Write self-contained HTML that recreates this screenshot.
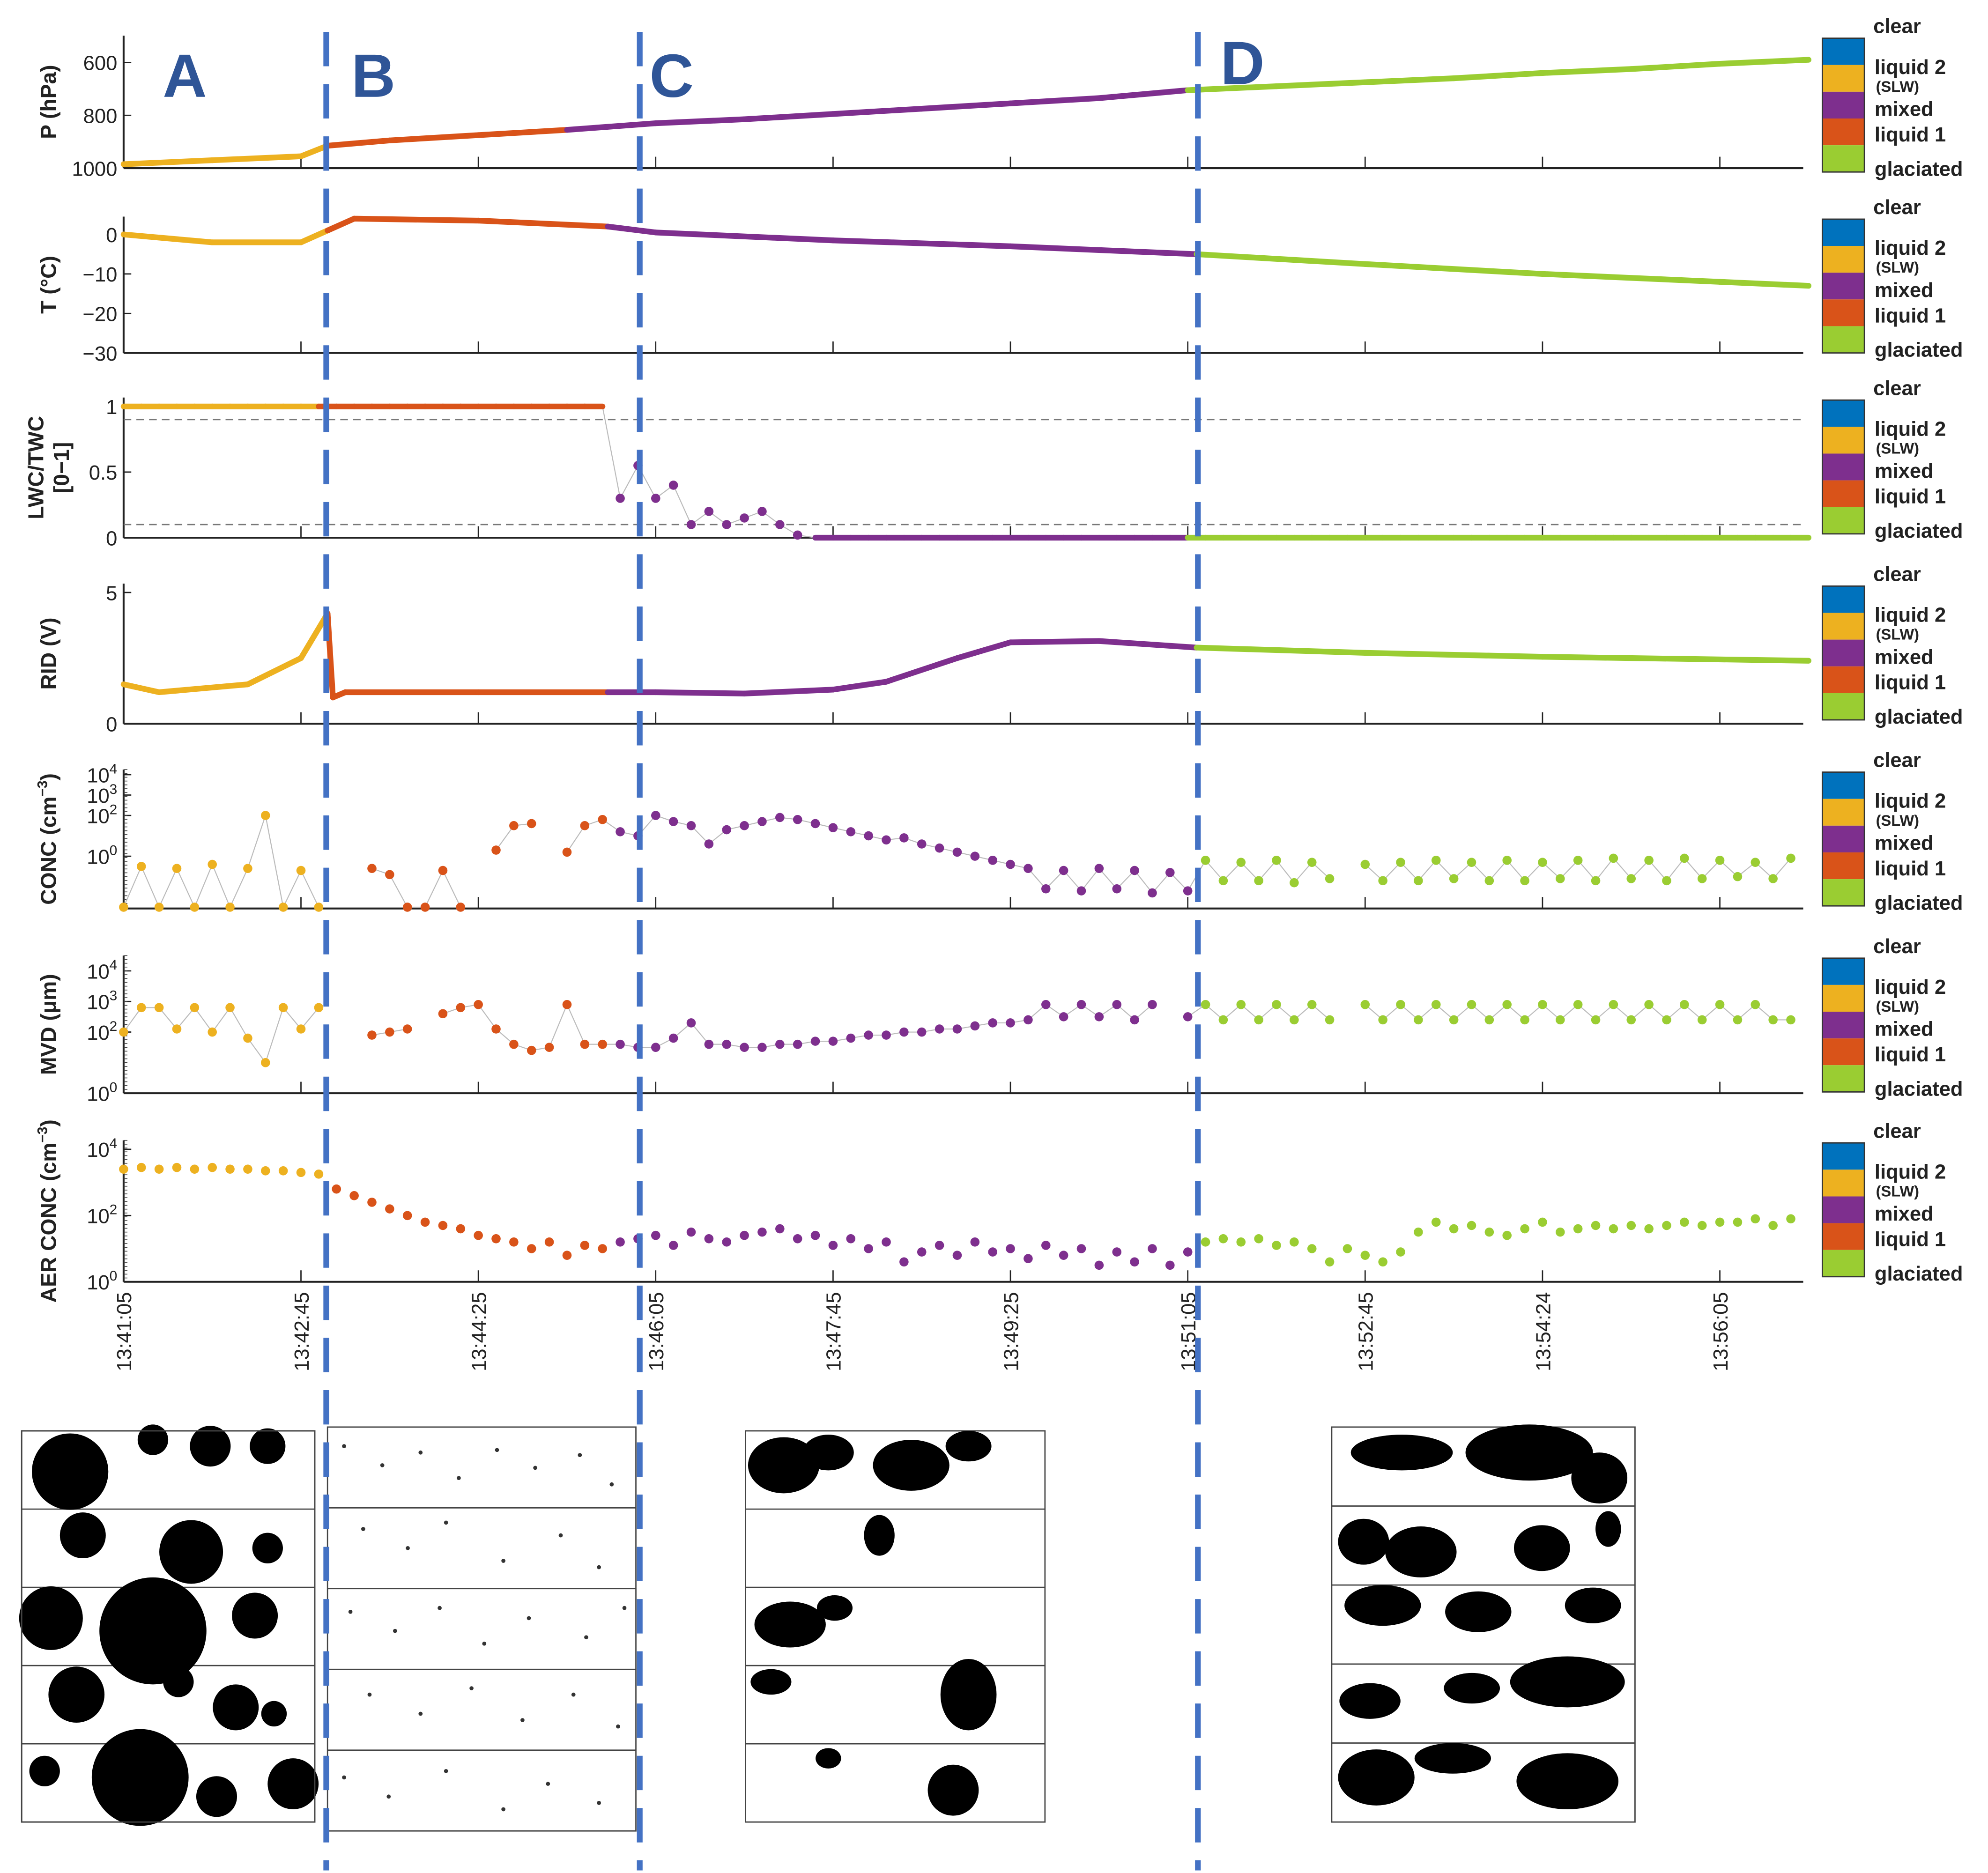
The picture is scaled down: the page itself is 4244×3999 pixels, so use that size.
<!DOCTYPE html>
<html><head><meta charset="utf-8"><style>
html,body{margin:0;padding:0;background:#fff;}
svg{display:block;font-family:"Liberation Sans",sans-serif;}
</style></head><body>
<svg id="chart" width="4244" height="3999" viewBox="0 0 1560 1470" preserveAspectRatio="none" xmlns="http://www.w3.org/2000/svg">
<g id="panels"></g>
<g id="images"></g>
<g id="overlay"></g>
</svg>
<script>
// ---- data ----
const timeLabels = ["13:41:05","13:42:45","13:44:25","13:46:05","13:47:45","13:49:25","13:51:05","13:52:45","13:54:24","13:56:05"];
const tickSeconds = [0,100,200,300,400,500,600,700,800,900];
const phaseBreaks = [115, 273, 605];
const pT = [0,50,100,115,150,200,250,300,350,400,450,500,550,600,650,700,750,800,850,900,950];
const pVal = [985,970,955,915,895,875,855,830,815,795,775,755,735,705,690,675,660,640,625,605,590];
const tT = [0,50,100,115,130,200,273,300,400,500,605,700,800,900,950];
const tVal = [0,-2,-2,1,4,3.5,2,0.5,-1.5,-3,-5,-7.5,-10,-12,-13];
const ridT = [0,20,70,100,115,118,125,200,273,300,350,400,430,470,500,550,605,700,800,950];
const ridVal = [1.5,1.2,1.5,2.5,4.2,1.0,1.2,1.2,1.2,1.2,1.15,1.3,1.6,2.5,3.1,3.15,2.9,2.7,2.55,2.4];
const lwcVal = [1,1,1,1,1,1,1,1,1,1,1,1,1,1,1,1,1,1,1,1,1,1,1,1,1,1,1,1,
 0.3,0.55,0.3,0.4,0.1,0.2,0.1,0.15,0.2,0.1,0.02,
 0,0,0,0,0,0,0,0,0,0,0,0,0,0,0,0,0,0,0,0,0,0,0,0,0,0,0,0,0,0,0,0,0,0,0,0,0,0,0,0,0,0,0,0,0,0,0,0,0,0,0,0,0,0,0,0,0];
const concLog = [-2.5,-0.5,-2.5,-0.6,-2.5,-0.4,-2.5,-0.6,2.0,-2.5,-0.7,-2.5,
 null,null,-0.6,-0.9,-2.5,-2.5,-0.7,-2.5,null,0.3,1.5,1.6,null,0.2,1.5,1.8,
 1.2,1.0,2.0,1.7,1.5,0.6,1.3,1.5,1.7,1.9,1.8,1.6,1.4,1.2,1.0,0.8,0.9,0.6,0.4,0.2,0,-0.2,-0.4,-0.6,-1.6,-0.7,-1.7,-0.6,-1.6,-0.7,-1.8,-0.8,-1.7,
 -0.2,-1.2,-0.3,-1.2,-0.2,-1.3,-0.3,-1.1,null,-0.4,-1.2,-0.3,-1.2,-0.2,-1.1,-0.3,-1.2,-0.2,-1.2,-0.3,-1.1,-0.2,-1.2,-0.1,-1.1,-0.2,-1.2,-0.1,-1.1,-0.2,-1.0,-0.3,-1.1,-0.1];
const mvdLog = [2.0,2.8,2.8,2.1,2.8,2.0,2.8,1.8,1.0,2.8,2.1,2.8,
 null,null,1.9,2.0,2.1,null,2.6,2.8,2.9,2.1,1.6,1.4,1.5,2.9,1.6,1.6,
 1.6,1.5,1.5,1.8,2.3,1.6,1.6,1.5,1.5,1.6,1.6,1.7,1.7,1.8,1.9,1.9,2.0,2.0,2.1,2.1,2.2,2.3,2.3,2.4,2.9,2.5,2.9,2.5,2.9,2.4,2.9,null,2.5,
 2.9,2.4,2.9,2.4,2.9,2.4,2.9,2.4,null,2.9,2.4,2.9,2.4,2.9,2.4,2.9,2.4,2.9,2.4,2.9,2.4,2.9,2.4,2.9,2.4,2.9,2.4,2.9,2.4,2.9,2.4,2.9,2.4,2.4];
const aerLog = [3.4,3.45,3.4,3.45,3.4,3.45,3.4,3.4,3.35,3.35,3.3,3.25,
 2.8,2.6,2.4,2.2,2.0,1.8,1.7,1.6,1.4,1.3,1.2,1.0,1.2,0.8,1.1,1.0,
 1.2,1.3,1.4,1.1,1.5,1.3,1.2,1.4,1.5,1.6,1.3,1.4,1.1,1.3,1.0,1.2,0.6,0.9,1.1,0.8,1.2,0.9,1.0,0.7,1.1,0.8,1.0,0.5,0.9,0.6,1.0,0.5,0.9,
 1.2,1.3,1.2,1.3,1.1,1.2,1.0,0.6,1.0,0.8,0.6,0.9,1.5,1.8,1.6,1.7,1.5,1.4,1.6,1.8,1.5,1.6,1.7,1.6,1.7,1.6,1.7,1.8,1.7,1.8,1.8,1.9,1.7,1.9];
const sampleStep = 10;

// ---- helpers ----
const NS="http://www.w3.org/2000/svg";
const COL={clear:"#0072BD",l2:"#EDB120",mixed:"#7E2F8E",l1:"#D95319",glac:"#9ACD32"};
const X0=97, X1=1415, TMAX=947;
const xs = t => X0 + t*(X1-X0)/TMAX;
function phaseColor(t){ if(t<phaseBreaks[0])return COL.l2; if(t<phaseBreaks[1])return COL.l1; if(t<phaseBreaks[2])return COL.mixed; return COL.glac; }
function mk(tag,attrs,parent){const e=document.createElementNS(NS,tag);for(const k in attrs)e.setAttribute(k,attrs[k]);(parent||document.getElementById('panels')).appendChild(e);return e;}
function txt(s,attrs,parent){const e=mk('text',attrs,parent);e.textContent=s;return e;}

const panels=[
 {name:"pressure",top:28,bot:132,label:"P (hPa)",ticks:[[600,"600"],[800,"800"],[1000,"1000"]],y:v=>49+(v-600)*(132-49)/400},
 {name:"temperature",top:170,bot:277,label:"T (\u00B0C)",ticks:[[0,"0"],[-10,"\u221210"],[-20,"\u221220"],[-30,"\u221230"]],y:v=>184+(-v)*3.1},
 {name:"lwc-ratio",top:312,bot:422,label:"LWC/TWC",label2:"[0\u22121]",ticks:[[1,"1"],[0.5,"0.5"],[0,"0"]],y:v=>422-v*103},
 {name:"rid",top:458,bot:568,label:"RID (V)",ticks:[[5,"5"],[0,"0"]],y:v=>568-v*20.6},
 {name:"conc",top:604,bot:713,label:"CONC (cm",sup:"\u22123",ticks:[[4,"10",4],[3,"10",3],[2,"10",2],[0,"10",0]],y:v=>672-v*16,log:true},
 {name:"mvd",top:750,bot:858,label:"MVD (\u03BCm)",ticks:[[4,"10",4],[3,"10",3],[2,"10",2],[0,"10",0]],y:v=>858-v*24,log:true},
 {name:"aer-conc",top:895,bot:1006,label:"AER CONC (cm",sup:"\u22123",ticks:[[4,"10",4],[2,"10",2],[0,"10",0]],y:v=>1006-v*26,log:true}
];

panels.forEach((p,pi)=>{
 const g=mk('g',{});
 
 
 mk('line',{x1:X0,y1:p.top,x2:X0,y2:p.bot,stroke:"#222","stroke-width":1.5},g);
 mk('line',{x1:X0,y1:p.bot,x2:X1,y2:p.bot,stroke:"#222","stroke-width":1.5},g);
 tickSeconds.forEach(s=>{ if(s>0) mk('line',{x1:xs(s),y1:p.bot,x2:xs(s),y2:p.bot-9,stroke:"#222","stroke-width":1},g); });
 p.ticks.forEach(tk=>{
   const y=p.y(tk[0]);
   mk('line',{x1:X0,y1:y,x2:X0+6,y2:y,stroke:"#222","stroke-width":1},g);
   const t=txt(tk[1],{x:X0-5,y:y+6,"text-anchor":"end","font-size":16,fill:"#222"},g);
   if(tk.length>2){ const ts=document.createElementNS(NS,'tspan'); ts.setAttribute('dy',-7); ts.setAttribute('font-size',11); ts.textContent=tk[2]; t.appendChild(ts); }
 });
 if(p.log){ for(let y=p.top;y<p.bot;y+=3) mk('line',{x1:X0,y1:y,x2:X0+3,y2:y,stroke:"#444","stroke-width":0.6},g); }
 const cy=(p.top+p.bot)/2;
 const lx = p.label2?34:44;
 const yl=txt(p.label,{x:0,y:0,transform:`translate(${lx},${cy}) rotate(-90)`,"text-anchor":"middle","font-size":17,"font-weight":"bold",fill:"#222"},g);
 
 
 if(p.sup){ const ts=document.createElementNS(NS,'tspan'); ts.setAttribute('dy',-7); ts.setAttribute('font-size',11); ts.textContent=p.sup; yl.appendChild(ts); const t2=document.createElementNS(NS,'tspan'); t2.setAttribute('dy',7); t2.textContent=')'; yl.appendChild(t2); }
 if(p.label2) txt(p.label2,{x:0,y:0,transform:`translate(54,${cy}) rotate(-90)`,"text-anchor":"middle","font-size":17,"font-weight":"bold",fill:"#222"},g);
 const lg=mk('g',{},g);
 
 
 const ly=p.top-2+4, lh=21;
 [COL.clear,COL.l2,COL.mixed,COL.l1,COL.glac].forEach((c,i)=>mk('rect',{x:1430,y:ly+i*lh,width:33,height:lh,fill:c},lg));
 mk('rect',{x:1430,y:ly,width:33,height:lh*5,fill:"none",stroke:"#333","stroke-width":1},lg);
 txt("clear",{x:1470,y:ly-4,"font-size":16,"font-weight":"bold",fill:"#222"},lg);
 txt("liquid 2",{x:1471,y:ly+lh+7,"font-size":16,"font-weight":"bold",fill:"#222"},lg);
 txt("(SLW)",{x:1472,y:ly+lh+21,"font-size":12,"font-weight":"bold",fill:"#222"},lg);
 txt("mixed",{x:1471,y:ly+3*lh-2,"font-size":16,"font-weight":"bold",fill:"#222"},lg);
 txt("liquid 1",{x:1471,y:ly+4*lh-3,"font-size":16,"font-weight":"bold",fill:"#222"},lg);
 txt("glaciated",{x:1471,y:ly+5*lh+3,"font-size":16,"font-weight":"bold",fill:"#222"},lg);
 p.g=g;
});

function lineSeries(p,ts,vs,name,onlyFlat){
 const g=mk('g',{},p.g);
 
 
 for(let i=0;i<ts.length-1;i++){
   if(onlyFlat && vs[i]!==vs[i+1]) continue;
   mk('line',{x1:xs(ts[i]),y1:p.y(vs[i]),x2:xs(ts[i+1]),y2:p.y(vs[i+1]),stroke:phaseColor((ts[i]+ts[i+1])/2),"stroke-width":4.5,"stroke-linecap":"round"},g);
 }
}
lineSeries(panels[0],pT,pVal,'pressure-line');
lineSeries(panels[1],tT,tVal,'temperature-line');
lineSeries(panels[3],ridT,ridVal,'rid-line');

function scatter(p,vals,name,floor,connect,skipFlat){
 const g=mk('g',{},p.g);
 
 
 let prev=null;
 vals.forEach((v,i)=>{
   if(v===null){prev=null;return;}
   const t=i*sampleStep, x=xs(t), y=p.y(Math.max(v,floor));
   if(prev&&connect) mk('line',{x1:prev[0],y1:prev[1],x2:x,y2:y,stroke:"#bbb","stroke-width":0.8},g);
   prev=[x,y];
 });
 vals.forEach((v,i)=>{
   if(v===null)return;
   if(skipFlat && (v===1||v===0) && (vals[i-1]===v||vals[i+1]===v)) return;
   const t=i*sampleStep;
   mk('circle',{cx:xs(t),cy:p.y(Math.max(v,floor)),r:3.6,fill:phaseColor(t)},g);
 });
}
(function(){const p=panels[2];
 mk('line',{x1:X0,y1:p.y(0.9),x2:X1,y2:p.y(0.9),stroke:"#777","stroke-width":1,"stroke-dasharray":"6 4"},p.g);
 mk('line',{x1:X0,y1:p.y(0.1),x2:X1,y2:p.y(0.1),stroke:"#777","stroke-width":1,"stroke-dasharray":"6 4"},p.g);
 const ts=lwcVal.map((v,i)=>i*sampleStep);
 scatter(p,lwcVal,'lwc-ratio-points',-1,true,true);
 lineSeries(p,ts,lwcVal,'lwc-ratio-line',true);
})();
scatter(panels[4],concLog,'conc-points',-2.5,true);
scatter(panels[5],mvdLog,'mvd-points',0,true);
scatter(panels[6],aerLog,'aer-conc-points',0,false);

const xl=mk('g',{});


timeLabels.forEach((s,i)=>{ txt(s,{x:0,y:0,transform:`translate(${xs(tickSeconds[i])+6},1014) rotate(-90)`,"text-anchor":"end","font-size":16,fill:"#222"},xl); });

// ---- particle images ----
const IG=document.getElementById('images');
function frame(x,y,w,h,rows,name){
 const g=mk('g',{},IG);
 
 
 mk('rect',{x:x,y:y,width:w,height:h,fill:"#fff",stroke:"#444","stroke-width":1},g);
 for(let i=1;i<rows;i++) mk('line',{x1:x,y1:y+i*h/rows,x2:x+w,y2:y+i*h/rows,stroke:"#444","stroke-width":1},g);
 return g;
}
const gA=frame(17,1123,230,307,5,'image-strip-a');
const cA=[[55,1155,30],[120,1130,12],[165,1135,16],[210,1135,14],[65,1205,18],[150,1218,25],[210,1215,12],[40,1270,25],[120,1280,42],[200,1268,18],[60,1330,22],[140,1320,12],[185,1340,18],[215,1345,10],[35,1390,12],[110,1395,38],[170,1410,16],[230,1400,20]];
cA.forEach(c=>mk('circle',{cx:c[0],cy:c[1],r:c[2],fill:"#000"},gA));
mk('rect',{x:17,y:1123,width:230,height:307,fill:"none",stroke:"#444"},gA);
const gB=frame(257,1120,242,317,5,'image-strip-b');
const bPts=[[270,1135],[300,1150],[330,1140],[360,1160],[390,1138],[420,1152],[455,1142],[480,1165],[285,1200],[320,1215],[350,1195],[395,1225],[440,1205],[470,1230],[275,1265],[310,1280],[345,1262],[380,1290],[415,1270],[460,1285],[490,1262],[290,1330],[330,1345],[370,1325],[410,1350],[450,1330],[485,1355],[270,1395],[305,1410],[350,1390],[395,1420],[430,1400],[470,1415]];
bPts.forEach(p=>mk('circle',{cx:p[0],cy:p[1],r:1.6,fill:"#333"},gB));
const gC=frame(585,1123,235,307,5,'image-strip-c');
[[615,1150,28,22],[650,1140,20,14],[715,1150,30,20],[760,1135,18,12],[690,1205,12,16],[620,1275,28,18],[655,1262,14,10],[605,1320,16,10],[760,1330,22,28],[748,1405,20,20],[650,1380,10,8]].forEach(e=>mk('ellipse',{cx:e[0],cy:e[1],rx:e[2],ry:e[3],fill:"#000"},gC));
const gD=frame(1045,1120,238,310,5,'image-strip-d');
[[1100,1140,40,14],[1200,1140,50,22],[1255,1160,22,20],[1070,1210,20,18],[1115,1218,28,20],[1210,1215,22,18],[1262,1200,10,14],[1085,1260,30,16],[1160,1265,26,16],[1250,1260,22,14],[1075,1335,24,14],[1155,1325,22,12],[1230,1320,45,20],[1080,1395,30,22],[1140,1380,30,12],[1230,1398,40,22]].forEach(e=>mk('ellipse',{cx:e[0],cy:e[1],rx:e[2],ry:e[3],fill:"#000"},gD));

const OV=document.getElementById('overlay');
[[256,'a-b'],[502,'b-c'],[940,'c-d']].forEach(d=>{
 const l=mk('line',{x1:d[0],y1:25,x2:d[0],y2:1468,stroke:"#4472C4","stroke-width":4.5,"stroke-dasharray":"27 14"},OV);
 
 
});
[["A",145],["B",293],["C",527],["D",975]].forEach(a=>{
 const t=txt(a[0],{x:a[1],y:a[0]==="D"?66:76,"text-anchor":"middle","font-size":48,"font-weight":"bold",fill:"#2F5597"},OV);
 
 
});
</script>
</body></html>
